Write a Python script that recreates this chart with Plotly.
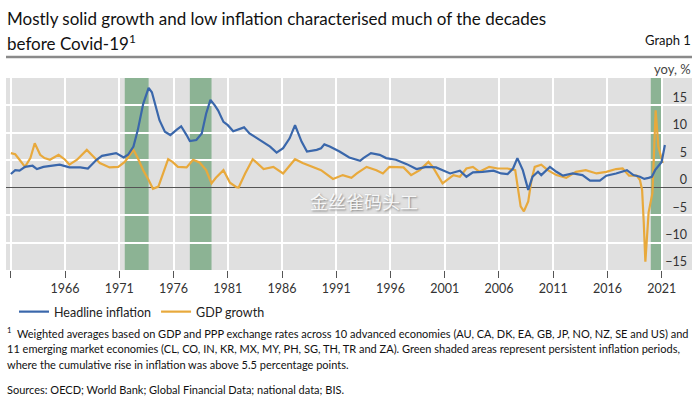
import plotly.graph_objects as go

# ---------------- data ----------------
infl_year = [1961.0, 1961.4, 1961.8, 1962.3, 1963.0, 1963.4, 1964.0, 1964.6, 1965.5, 1966.4,
             1967.4, 1968.1, 1968.9, 1969.4, 1970.1, 1970.7, 1971.4, 1971.8, 1972.3, 1972.7,
             1973.2, 1973.7, 1974.0, 1974.3, 1974.7, 1975.2, 1975.7, 1976.3, 1976.7, 1977.2,
             1977.5, 1978.1, 1978.6, 1979.0, 1979.4, 1979.8, 1980.1, 1980.6, 1981.0, 1981.5,
             1982.1, 1982.5, 1983.0, 1983.9, 1984.9, 1985.5, 1986.1, 1986.7, 1987.2, 1987.8,
             1988.3, 1989.2, 1989.6, 1989.9, 1990.4, 1991.3, 1992.2, 1993.2, 1993.5, 1994.2,
             1995.0, 1995.6, 1996.5, 1997.5, 1998.4, 1999.3, 2000.2, 2001.5, 2002.4, 2003.0,
             2003.6, 2004.5, 2005.5, 2006.2, 2006.8, 2007.3, 2007.7, 2008.2, 2008.7, 2009.1,
             2009.6, 2009.9, 2010.7, 2011.3, 2011.9, 2012.8, 2013.7, 2014.4, 2015.3, 2015.9,
             2016.8, 2017.8, 2018.4, 2019.0, 2019.4, 2019.8, 2020.1, 2020.4, 2020.8, 2021.0,
             2021.3]
infl_val = [2.5, 3.2, 3.1, 3.8, 4.0, 3.4, 3.8, 4.0, 4.2, 3.7,
            3.7, 3.5, 5.1, 5.8, 6.0, 6.3, 5.5, 6.0, 7.5, 10.5,
            15.3, 18.2, 17.4, 15.3, 12.3, 10.2, 9.6, 10.6, 11.2, 9.6,
            8.5, 8.7, 9.9, 13.5, 16.0, 15.0, 14.1, 12.0, 11.4, 10.3,
            10.8, 11.0, 9.9, 8.7, 7.5, 6.4, 7.2, 9.0, 11.4, 8.4,
            6.6, 6.9, 7.2, 7.9, 7.5, 6.6, 5.5, 4.9, 5.4, 6.3,
            6.0, 5.4, 5.1, 4.3, 3.4, 3.8, 3.7, 2.6, 3.1, 2.0,
            2.8, 2.9, 3.1, 2.6, 2.5, 3.5, 5.4, 3.2, -0.4, 2.0,
            2.9, 2.3, 3.8, 2.9, 2.2, 2.6, 2.3, 1.3, 1.3, 2.2,
            2.6, 3.2, 2.3, 2.0, 1.6, 1.8, 2.0, 3.2, 4.2, 4.7,
            7.8]

gdp_year = [1961.0, 1961.4, 1961.8, 1962.3, 1962.8, 1963.2, 1963.7, 1964.1, 1964.6, 1965.4,
            1966.0, 1966.4, 1967.1, 1968.0, 1968.6, 1969.2, 1970.1, 1970.9, 1971.5, 1972.3,
            1972.7, 1973.2, 1973.7, 1974.1, 1974.6, 1975.0, 1975.5, 1975.9, 1976.4, 1977.2,
            1977.8, 1978.4, 1979.0, 1979.5, 1979.9, 1980.6, 1981.2, 1981.8, 1982.0, 1982.6,
            1983.3, 1984.3, 1985.2, 1986.1, 1987.2, 1987.9, 1988.9, 1989.6, 1990.7, 1991.6,
            1992.4, 1992.9, 1993.8, 1994.7, 1995.3, 1995.9, 1997.2, 1997.9, 1998.7, 1999.5,
            1999.9, 2000.8, 2001.8, 2002.4, 2003.0, 2003.6, 2004.2, 2005.1, 2005.9, 2006.8,
            2007.5, 2007.7, 2008.0, 2008.3, 2008.7, 2009.0, 2009.3, 2009.9, 2010.5, 2011.3,
            2012.2, 2013.1, 2014.0, 2015.0, 2015.9, 2016.8, 2017.4, 2018.0, 2018.7, 2019.0,
            2019.2, 2019.35, 2019.5, 2019.8, 2020.15, 2020.45, 2020.7, 2021.1]
gdp_val = [6.3, 6.1, 5.1, 3.8, 5.4, 8.1, 6.0, 5.4, 5.1, 6.0,
           5.1, 4.2, 5.1, 6.9, 5.7, 4.5, 3.7, 3.8, 4.7, 6.9,
           5.4, 3.2, 1.4, -0.2, 0.2, 2.6, 5.2, 4.7, 3.8, 3.7,
           5.1, 4.6, 3.2, 0.8, 1.8, 3.2, 0.9, 0.1, 0.05, 2.6,
           5.2, 3.4, 3.8, 2.6, 5.2, 4.5, 3.8, 3.2, 1.6, 2.3,
           1.8, 2.6, 3.8, 3.2, 2.6, 3.8, 3.7, 2.3, 3.2, 4.7,
           3.8, 0.8, 2.3, 2.0, 3.5, 3.8, 2.9, 3.8, 3.5, 3.5,
           3.2, 0.8, -3.4, -4.3, -2.5, 1.4, 3.8, 4.2, 3.2, 2.3,
           1.8, 2.9, 3.2, 2.6, 2.9, 3.4, 3.5, 2.2, 2.2, 1.4,
           -0.4, -6.3, -13.5, -4.5, -1.0, 14.1, 7.5, 4.5]

band_start = [1971.5, 1977.5, 2020.0]
band_end = [1973.7, 1979.5, 2021.1]

x_unlabelled_ticks = [1961]
x_tick_years = [1966, 1971, 1976, 1981, 1986, 1991, 1996, 2001, 2006, 2011, 2016, 2021]
x_tick_text = ["1966", "1971", "1976", "1981", "1986", "1991", "1996", "2001", "2006", "2011", "2016", "2021"]
y_tick_vals = [-15, -10, -5, 0, 5, 10, 15]
y_tick_text = ["\u221215", "\u221210", "\u22125", "0", "5", "10", "15"]

# ---------------- layout helpers ----------------
W, H = 700, 401
L, R, T, B = 6, 8, 78, 131
PW, PH = W - L - R, H - T - B


def xp(px):
    return (px - L) / PW


def yp(py):
    return (H - B - py) / PH


FONT = "Lato"
BLUE = "#3a67ab"
GOLD = "#e8a93c"
GREEN = "#8cb394"

fig = go.Figure()
fig.add_trace(go.Scatter(x=gdp_year, y=gdp_val, mode="lines", name="GDP growth",
                         line=dict(color=GOLD, width=2.2), legendrank=2))
fig.add_trace(go.Scatter(x=infl_year, y=infl_val, mode="lines", name="Headline inflation",
                         line=dict(color=BLUE, width=2.2), legendrank=1))

shapes = []
for s, e in zip(band_start, band_end):
    shapes.append(dict(type="rect", xref="x", yref="paper", x0=s, x1=e, y0=0, y1=1,
                       fillcolor=GREEN, line=dict(width=0), layer="between"))
shapes.append(dict(type="line", xref="paper", yref="paper", x0=xp(6), x1=xp(692),
                   y0=yp(57), y1=yp(57), line=dict(color="#8a8a8a", width=2.5)))

annotations = [
    dict(text="Mostly solid growth and low inflation characterised much of the decades",
         xref="paper", yref="paper", x=xp(5), y=yp(19), xanchor="left", yanchor="middle",
         align="left", showarrow=False, font=dict(family=FONT, size=17, color="#111")),
    dict(text="before Covid-19<sup>1</sup>",
         xref="paper", yref="paper", x=xp(5), y=yp(42), xanchor="left", yanchor="middle",
         align="left", showarrow=False, font=dict(family=FONT, size=17, color="#111")),
    dict(text="Graph 1", xref="paper", yref="paper", x=xp(693), y=yp(40),
         xanchor="right", yanchor="middle", showarrow=False,
         font=dict(family=FONT, size=13, color="#111")),
    dict(text="yoy, %", xref="paper", yref="paper", x=xp(693), y=yp(69),
         xanchor="right", yanchor="middle", showarrow=False,
         font=dict(family=FONT, size=13, color="#444")),
    dict(text="金丝雀码头工", xref="paper", yref="paper", x=xp(364), y=yp(201),
         xanchor="center", yanchor="middle", showarrow=False,
         font=dict(family="Noto Sans CJK SC", size=18, color="rgba(255,255,255,0.9)",
                   shadow="1px 1px 2px #777")),
]
foot_lines = [
    ("<sup>1</sup>  Weighted averages based on GDP and PPP exchange rates across 10 advanced economies (AU, CA, DK, EA, GB, JP, NO, NZ, SE and US) and", 332),
    ("11 emerging market economies (CL, CO, IN, KR, MX, MY, PH, SG, TH, TR and ZA). Green shaded areas represent persistent inflation periods,", 348),
    ("where the cumulative rise in inflation was above 5.5 percentage points.", 364),
    ("Sources: OECD; World Bank; Global Financial Data; national data; BIS.", 389),
]
for txt, ypx in foot_lines:
    annotations.append(dict(text=txt, xref="paper", yref="paper", x=xp(5), y=yp(ypx),
                            xanchor="left", yanchor="middle", showarrow=False, align="left",
                            font=dict(family=FONT, size=11, color="#111")))

fig.update_layout(
    width=W, height=H,
    margin=dict(l=L, r=R, t=T, b=B, pad=0, autoexpand=False),
    paper_bgcolor="white", plot_bgcolor="#e0e0e0",
    font=dict(family=FONT, color="#222"),
    shapes=shapes, annotations=annotations,
    showlegend=True,
    legend=dict(orientation="h", x=xp(14), y=yp(312), xanchor="left", yanchor="middle",
                font=dict(family=FONT, size=12.5, color="#222"), itemwidth=30,
                bgcolor="rgba(0,0,0,0)", traceorder="normal"),
    xaxis=dict(range=[1960.55, 2023.8], tickvals=x_tick_years, ticktext=x_tick_text,
               ticks="outside", ticklen=7, tickcolor="#555", tickwidth=1,
               showgrid=True, gridcolor="white", gridwidth=1.5, zeroline=False,
               showline=False, tickfont=dict(family=FONT, size=12.5, color="#333"),
               minor=dict(tickvals=x_unlabelled_ticks, ticks="outside", ticklen=7,
                          tickcolor="#555", tickwidth=1, showgrid=True,
                          gridcolor="white", gridwidth=1.5)),
    yaxis=dict(range=[-15, 20], side="right", tickvals=y_tick_vals, ticktext=y_tick_text,
               ticklabelposition="inside", ticklabelshift=-8, ticklabelstandoff=2,
               ticklabeloverflow="allow",
               showgrid=True, gridcolor="white", gridwidth=1.5,
               zeroline=True, zerolinecolor="#555", zerolinewidth=1,
               ticks="", showline=False,
               tickfont=dict(family=FONT, size=12.5, color="#333")),
)

fig.write_html("out.html")
